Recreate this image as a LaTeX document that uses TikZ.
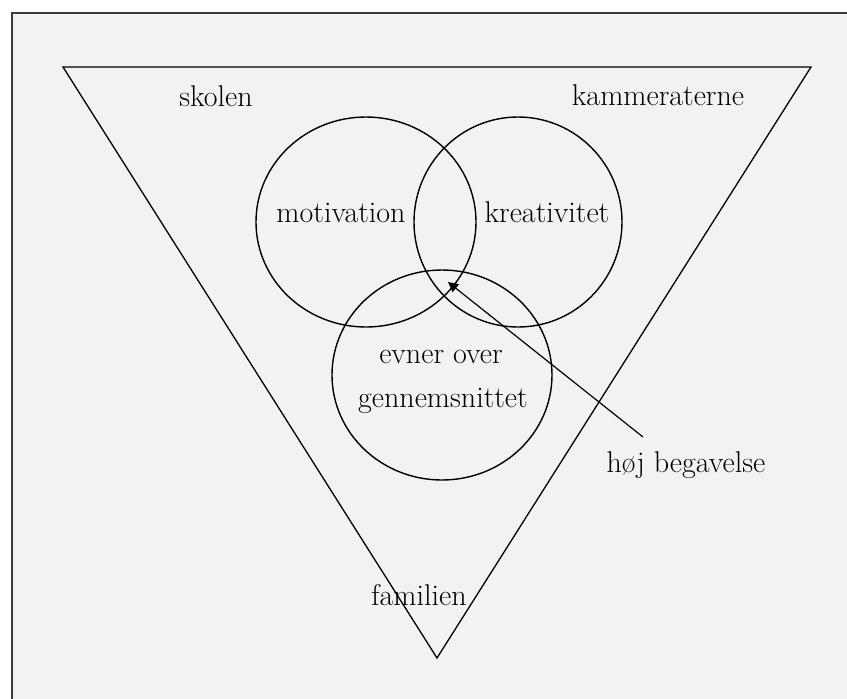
\documentclass[tikz,border=0pt]{standalone}
\usepackage{fontspec}
\usetikzlibrary{arrows.meta}
\definecolor{paper}{HTML}{F2F2F2}
\definecolor{framegray}{HTML}{3A3A3A}

\begin{document}
\begin{tikzpicture}[
    x=0.5pt, y=-0.5pt,
    every node/.style={font=\fontsize{15}{18}\selectfont, inner sep=0pt},
    lbl/.style={anchor=base},
    ring/.style={draw, line width=0.7pt},
    edge/.style={draw, line width=0.65pt},
    pointer/.style={-{Triangle[length=5pt, width=5pt]}, line width=0.6pt}
]
    \useasboundingbox (0,0) rectangle (847,698);
    \clip (0,0) rectangle (847,698);
    \fill[white] (0,0) rectangle (847,698);
    \filldraw[fill=paper, draw=framegray, line width=1.4pt] (12,13) rectangle (880,730);

    % outer triangle
    \draw[edge] (63,67) -- (811,67) -- (437,658) -- cycle;

    % the three circles
    \draw[ring] (366,222) ellipse [x radius=110, y radius=105];
    \draw[ring] (518,222) ellipse [x radius=104, y radius=105];
    \draw[ring] (442,375) ellipse [x radius=110, y radius=105];

    % labels
    \node[lbl] (skolen) at (216,106) {skolen};
    \node[lbl] (kammeraterne) at (658,105) {kammeraterne};
    \node[lbl] (motivation) at (341,222) {motivation};
    \node[lbl] (kreativitet) at (547,222) {kreativitet};
    \node[lbl] (evner) at (441,363) {evner over};
    \node[lbl] (snit) at (443,407) {gennemsnittet};
    \node[lbl] (begavelse) at (686,472) {høj begavelse};
    \node[lbl] (familien) at (419,605) {familien};

    % pointer to the common area
    \coordinate (kerne) at (448,282);
    \coordinate (pilstart) at (643,437);
    \draw[pointer] (pilstart) -- (kerne);
\end{tikzpicture}
\end{document}
